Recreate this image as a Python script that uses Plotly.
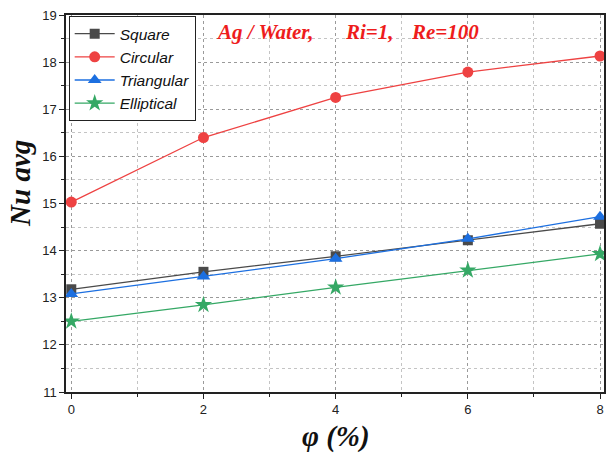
import plotly.graph_objects as go

phi = [0, 2, 4, 6, 8]
square = [13.18, 13.55, 13.88, 14.22, 14.57]
circular = [15.03, 16.40, 17.25, 17.79, 18.13]
triangular = [13.08, 13.45, 13.83, 14.25, 14.72]
elliptical = [12.50, 12.85, 13.22, 13.58, 13.93]

series = [
    ("Square", square, "#4a4a4a", "square", 10),
    ("Circular", circular, "#ee4242", "circle", 11),
    ("Triangular", triangular, "#1c6fe0", "triangle-up", 12),
    ("Elliptical", elliptical, "#35a865", "star", 13),
]

fig = go.Figure()
for name, vals, color, sym, size in series:
    fig.add_trace(go.Scatter(
        x=phi, y=vals, name=name, mode="lines+markers",
        line=dict(color=color, width=1.3),
        marker=dict(symbol=sym, size=size, color=color, line=dict(width=0)),
    ))

fig.update_layout(
    width=608, height=453,
    margin=dict(l=66, r=4, t=15, b=61, autoexpand=False),
    plot_bgcolor="white", paper_bgcolor="white",
    showlegend=True,
    legend=dict(
        x=0.005, y=0.997, xanchor="left", yanchor="top",
        bgcolor="white", bordercolor="#222", borderwidth=1,
        font=dict(family="Liberation Sans, Arial", size=15.5, color="#111", style="italic"),
        tracegroupgap=0, itemwidth=40,
    ),
    font=dict(family="Liberation Sans, Arial", size=13, color="#222"),
)

fig.update_xaxes(
    range=[-0.08, 8.06], tickvals=[0, 2, 4, 6, 8],
    showline=True, linecolor="#222", linewidth=1.5, mirror=True,
    ticks="outside", ticklen=5, tickcolor="#222",
    showgrid=True, gridcolor="#9a9a9a", griddash="dot", gridwidth=1,
    minor=dict(dtick=1, showgrid=True, gridcolor="#c4c4c4", griddash="dot", ticks="outside", ticklen=3, tickcolor="#222"),
    zeroline=False,
)
fig.update_yaxes(
    range=[11, 19], tickvals=[11, 12, 13, 14, 15, 16, 17, 18, 19],
    showline=True, linecolor="#222", linewidth=1.5, mirror=True,
    ticks="outside", ticklen=5, tickcolor="#222",
    showgrid=True, gridcolor="#9a9a9a", griddash="dot", gridwidth=1,
    minor=dict(dtick=0.5, showgrid=True, gridcolor="#c4c4c4", griddash="dot", ticks="outside", ticklen=3, tickcolor="#222"),
    zeroline=False,
)

title_font = dict(family="Liberation Serif, Times New Roman", size=29, style="italic", weight="bold", color="#111")
fig.add_annotation(xref="paper", yref="paper", x=0.502, y=-0.118, xanchor="center", yanchor="middle",
                   text="φ (%)", showarrow=False, font=title_font)
fig.add_annotation(xref="paper", yref="paper", x=-0.0855, y=0.552, xanchor="center", yanchor="middle",
                   text="Nu avg", textangle=-90, showarrow=False, font=title_font)

ann_font = dict(family="Liberation Serif, Times New Roman", size=21, color="#ee1c1c", style="italic", weight="bold")
for txt, xp in [("Ag / Water,", 0.275), ("Ri=1,", 0.514), ("Re=100", 0.637)]:
    fig.add_annotation(
        xref="paper", yref="paper", x=xp, y=0.955, xanchor="left", yanchor="middle",
        text=txt, showarrow=False, font=ann_font,
    )

fig.write_html("out.html", config={"displayModeBar": False},
               post_script="document.body.style.margin='0px';")
